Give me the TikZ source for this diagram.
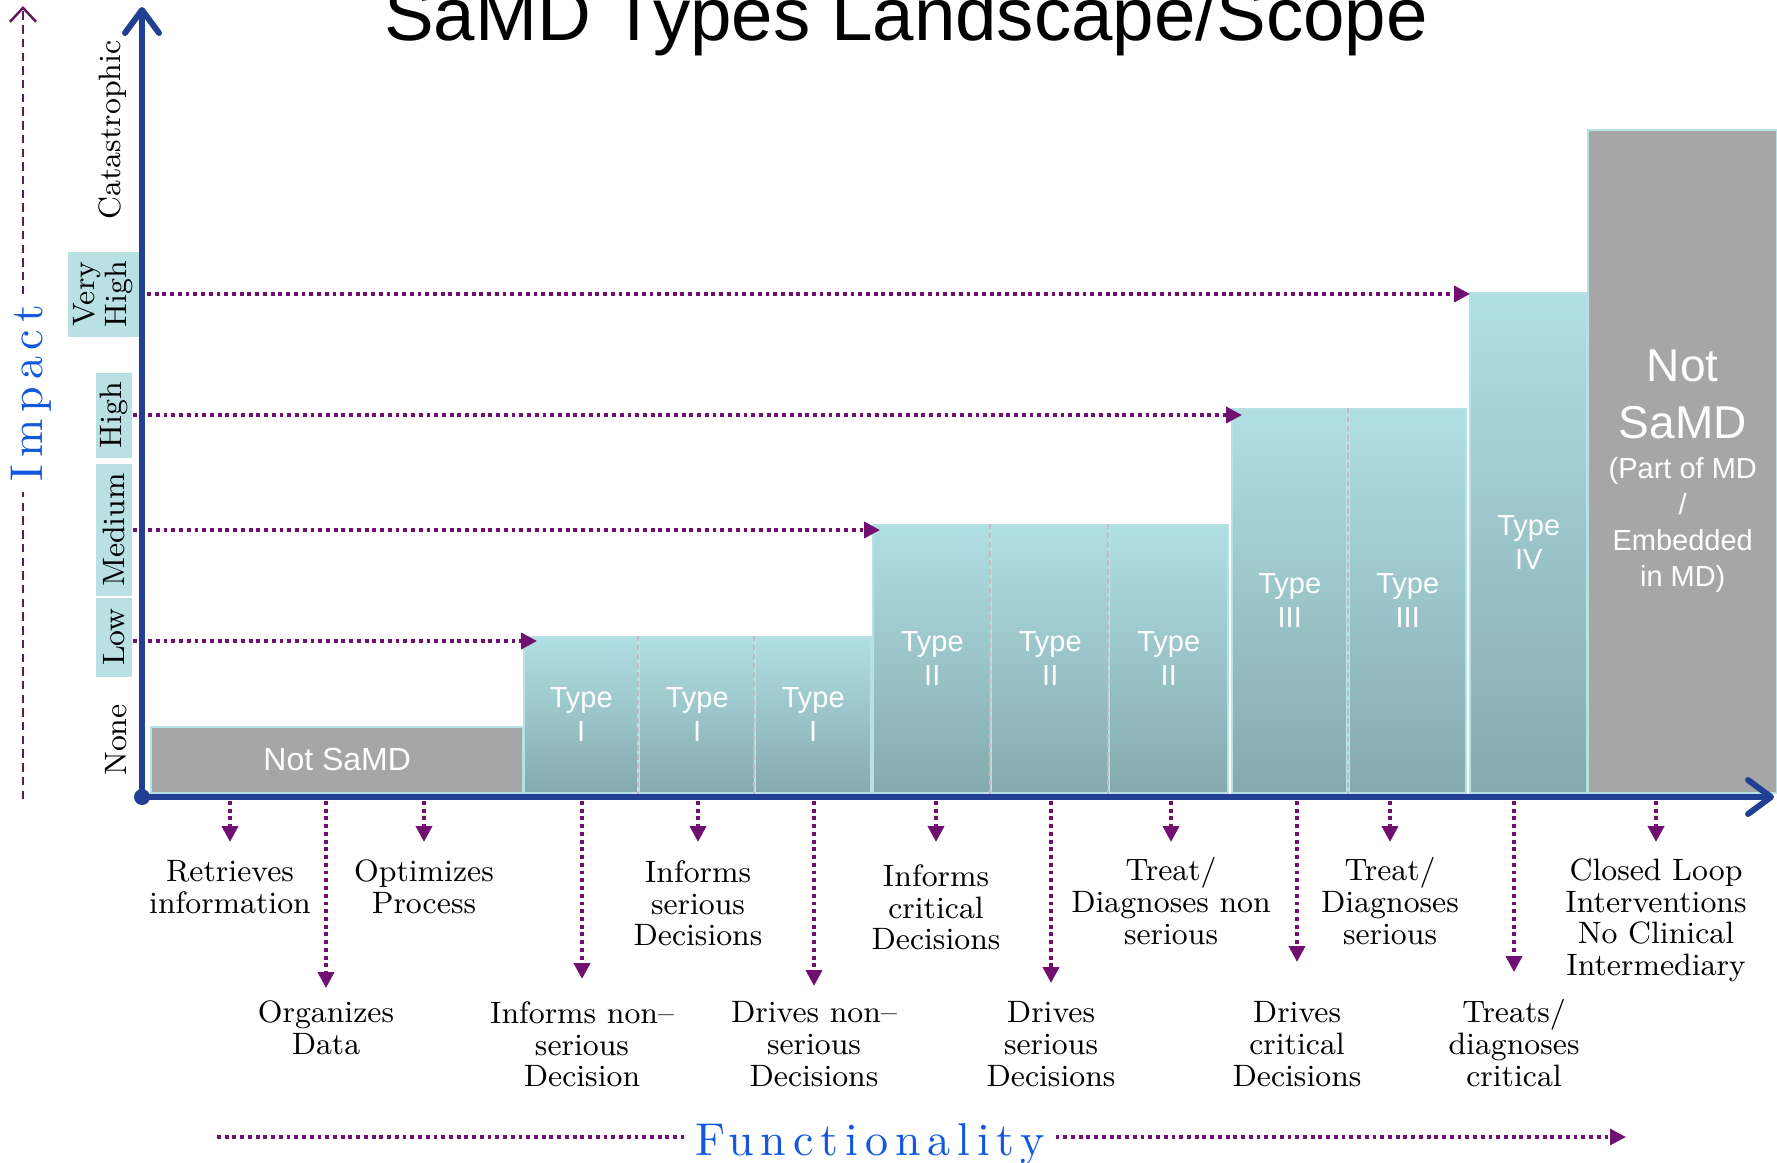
\documentclass[tikz,border=0pt]{standalone}
\usepackage{fontspec}
\usepackage{tikz}
\usetikzlibrary{arrows.meta}
\usetikzlibrary{positioning}
\newfontfamily\arialfont{Liberation Sans}
\newfontfamily\spacedfont{lmroman10-regular.otf}[LetterSpace=15]
\newcommand\lblfont{\fontsize{8.8pt}{9pt}\selectfont}
\newcommand\typfont{\arialfont\fontsize{8.25pt}{9.7pt}\selectfont}
\newcommand\nsbfont{\fontsize{13.1pt}{16pt}\selectfont}
\newcommand\ttlfont{\arialfont\fontsize{21.2pt}{25pt}\selectfont}
\newcommand\axfont{\spacedfont\fontsize{13.1pt}{15pt}\selectfont}
\definecolor{lvlpurple}{RGB}{112,16,112}
\definecolor{imppurple}{RGB}{96,24,96}
\definecolor{axisblue}{RGB}{33,64,148}
\definecolor{axtextblue}{RGB}{18,88,222}
\definecolor{lvlfill}{RGB}{185,225,228}
\definecolor{tealtop}{RGB}{176,223,227}
\definecolor{tealmid}{RGB}{163,206,210}
\definecolor{tealbot}{RGB}{133,170,173}
\definecolor{boxedge}{RGB}{183,226,229}
\definecolor{samdgray}{RGB}{166,166,166}
\definecolor{sepgray}{RGB}{190,190,190}
\tikzset{typebox/.style = {anchor=south west, draw=boxedge, line width=0.7pt,
                           top color=tealtop, middle color=tealmid, bottom color=tealbot,
                           text=white, font=\typfont, align=center, inner sep=0}}
\tikzset{graybox/.style = {anchor=south west, draw=boxedge, line width=0.7pt,
                           fill=samdgray, text=white, align=center, inner sep=0}}
\tikzset{lvlbox/.style = {rotate=90, fill=lvlfill, font=\lblfont, inner sep=0,
                          minimum height=3.6mm, align=center}}
\tikzset{lvltext/.style = {rotate=90, anchor=base, font=\lblfont, inner sep=0}}
\tikzset{func/.style = {anchor=north, font=\lblfont, align=center, inner sep=0}}
\tikzset{axtext/.style = {anchor=base, font=\axfont, text=axtextblue, inner sep=1mm}}
\tikzset{dotarrow/.style = {draw=lvlpurple, line width=1.1pt, dash pattern=on 1.1pt off 1.1pt,
                            -{Triangle[length=1.6mm, width=1.6mm]}}}
\tikzset{fdown/.style = {dotarrow, shorten <=0.4mm, shorten >=1.7mm}}
\tikzset{boxsep/.style = {draw=sepgray, line width=0.7pt, dash pattern=on 1.6pt off 1pt}}
\tikzset{impdash/.style = {draw=imppurple, line width=0.7pt, dash pattern=on 2.4pt off 1.5pt}}
\tikzset{axisline/.style = {draw=axisblue, line width=1.7pt,
                            -{Straight Barb[round, length=2.3mm, width=3.4mm]}}}

\begin{document}
\begin{tikzpicture}[x=0.1mm, y=-0.1mm]
    \useasboundingbox (0, 0) rectangle (1777, 1162);
    \coordinate (o) at (142, 797);

    \node [anchor=base, font=\ttlfont] (title) at (906, 40) {SaMD Types Landscape/Scope};

    \node [graybox, minimum width=37.2mm, minimum height=6.6mm,
           font=\arialfont\fontsize{9.1pt}{11pt}\selectfont] (ns1) at (150, 794) {Not SaMD};
    \node [typebox, minimum width=11.4mm, minimum height=15.6mm] (t1a) at (523, 794) {Type\\I};
    \node [typebox, minimum width=11.6mm, minimum height=15.6mm] (t1b) at (638, 794) {Type\\I};
    \node [typebox, minimum width=11.6mm, minimum height=15.6mm] (t1c) at (754, 794) {Type\\I};
    \node [typebox, minimum width=11.8mm, minimum height=26.8mm] (t2a) at (872, 794) {Type\\II};
    \node [typebox, minimum width=11.8mm, minimum height=26.8mm] (t2b) at (990, 794) {Type\\II};
    \node [typebox, minimum width=11.9mm, minimum height=26.8mm] (t2c) at (1108, 794) {Type\\II};
    \node [typebox, minimum width=11.5mm, minimum height=38.4mm] (t3a) at (1231, 794) {Type\\III};
    \node [typebox, minimum width=11.7mm, minimum height=38.4mm] (t3b) at (1348, 794) {Type\\III};
    \node [typebox, minimum width=11.7mm, minimum height=50mm] (t4) at (1469, 794) {Type\\IV};
    \node [graybox, minimum width=18.9mm, minimum height=66.3mm,
           font=\arialfont\fontsize{8.25pt}{10.2pt}\selectfont] (ns2) at (1587, 794)
          {{\nsbfont\rule{0pt}{14.6pt}Not}\\[6pt]{\nsbfont SaMD}\\[1.2pt](Part of MD\\/\\Embedded\\in MD)};

    \draw [boxsep] (t1b.north west) -- (t1b.south west);
    \draw [boxsep] (t1c.north west) -- (t1c.south west);
    \draw [boxsep] (t2b.north west) -- (t2b.south west);
    \draw [boxsep] (t2c.north west) -- (t2c.south west);
    \draw [boxsep] (t3b.north west) -- (t3b.south west);

    \node [lvlbox, minimum width=7.9mm] (low) at (114, 637) {Low};
    \node [lvlbox, minimum width=13.2mm] (med) at (114, 530) {Medium};
    \node [lvlbox, minimum width=8.5mm] (high) at (114, 415) {High};
    \node [lvlbox, minimum width=8.5mm, minimum height=7.1mm] (vhigh) at (103, 294) {Very\\High};
    \node [lvltext] (none) at (126, 740) {None};
    \node [lvltext] (cat) at (120, 130) {Catastrophic};

    \draw [dotarrow, shorten >=-1.4mm] ([yshift=-0.4mm]low.south) -- ([yshift=-0.4mm]low.south -| t1a.west);
    \draw [dotarrow, shorten >=-0.8mm] (med.south) -- (med.south -| t2a.west);
    \draw [dotarrow, shorten >=-1.1mm] (high.south) -- (high.south -| t3a.west);
    \draw [dotarrow, shorten >=-0.1mm] (vhigh.south) -- (vhigh.south -| t4.west);

    \node [func] (ret) at (230, 860) {Retrieves\\information};
    \node [func] (opt) at (424, 859) {Optimizes\\Process};
    \node [func] (infs) at (698, 860) {Informs\\serious\\Decisions};
    \node [func] (infc) at (936, 864) {Informs\\critical\\Decisions};
    \node [func] (trns) at (1171, 857) {Treat/\\Diagnoses non\\serious};
    \node [func] (trs) at (1390, 857) {Treat/\\Diagnoses\\serious};
    \node [func] (cl) at (1656, 858) {Closed Loop\\Interventions\\No Clinical\\Intermediary};
    \node [func] (org) at (326, 1000) {Organizes\\Data};
    \node [func] (infn) at (582, 1001) {Informs non--\\serious\\Decision};
    \node [func] (drn) at (814, 1001) {Drives non--\\serious\\Decisions};
    \node [func] (drs) at (1051, 1001) {Drives\\serious\\Decisions};
    \node [func] (drc) at (1297, 1001) {Drives\\critical\\Decisions};
    \node [func] (trc) at (1514, 999) {Treats/\\diagnoses\\critical};

    \draw [fdown, shorten >=1.8mm] (ret.north |- o) -- (ret.north);
    \draw [fdown] (opt.north |- o) -- (opt.north);
    \draw [fdown, shorten >=1.8mm] (infs.north |- o) -- (infs.north);
    \draw [fdown, shorten >=2.2mm] (infc.north |- o) -- (infc.north);
    \draw [fdown, shorten >=1.5mm] (trns.north |- o) -- (trns.north);
    \draw [fdown, shorten >=1.5mm] (trs.north |- o) -- (trs.north);
    \draw [fdown, shorten >=1.6mm] (cl.north |- o) -- (cl.north);
    \draw [fdown, shorten >=1.2mm] (org.north |- o) -- (org.north);
    \draw [fdown, shorten >=2.2mm] (infn.north |- o) -- (infn.north);
    \draw [fdown, shorten >=1.5mm] (drn.north |- o) -- (drn.north);
    \draw [fdown, shorten >=1.8mm] (drs.north |- o) -- (drs.north);
    \draw [fdown, shorten >=3.9mm] (drc.north |- o) -- (drc.north);
    \draw [fdown, shorten >=2.7mm] (trc.north |- o) -- (trc.north);

    \coordinate (xend) at (1774, 797);
    \coordinate (yend) at (142, 7);
    \draw [axisline] (o) -- (xend);
    \draw [axisline] (o) -- (yend);
    \node [circle, fill=axisblue, minimum size=1.6mm, inner sep=0] (odot) at (o) {};

    \node [axtext, rotate=90] (imp) at (43, 393) {Impact};
    \coordinate (ib) at (23, 799);
    \coordinate (it) at (23, 6);
    \draw [impdash] (ib) -- (imp.west -| ib);
    \draw [impdash, -{Straight Barb[length=1.4mm, width=2.6mm]}] (imp.east -| ib) -- (it);

    \node [axtext] (fun) at (870, 1155) {Functionality};
    \coordinate (fl) at (217, 1137);
    \coordinate (fr) at (1626, 1137);
    \draw [dotarrow, line width=0.9pt, -] (fl) -- (fl -| fun.west);
    \draw [dotarrow, line width=0.9pt] (fl -| fun.east) -- (fr);
\end{tikzpicture}
\end{document}
